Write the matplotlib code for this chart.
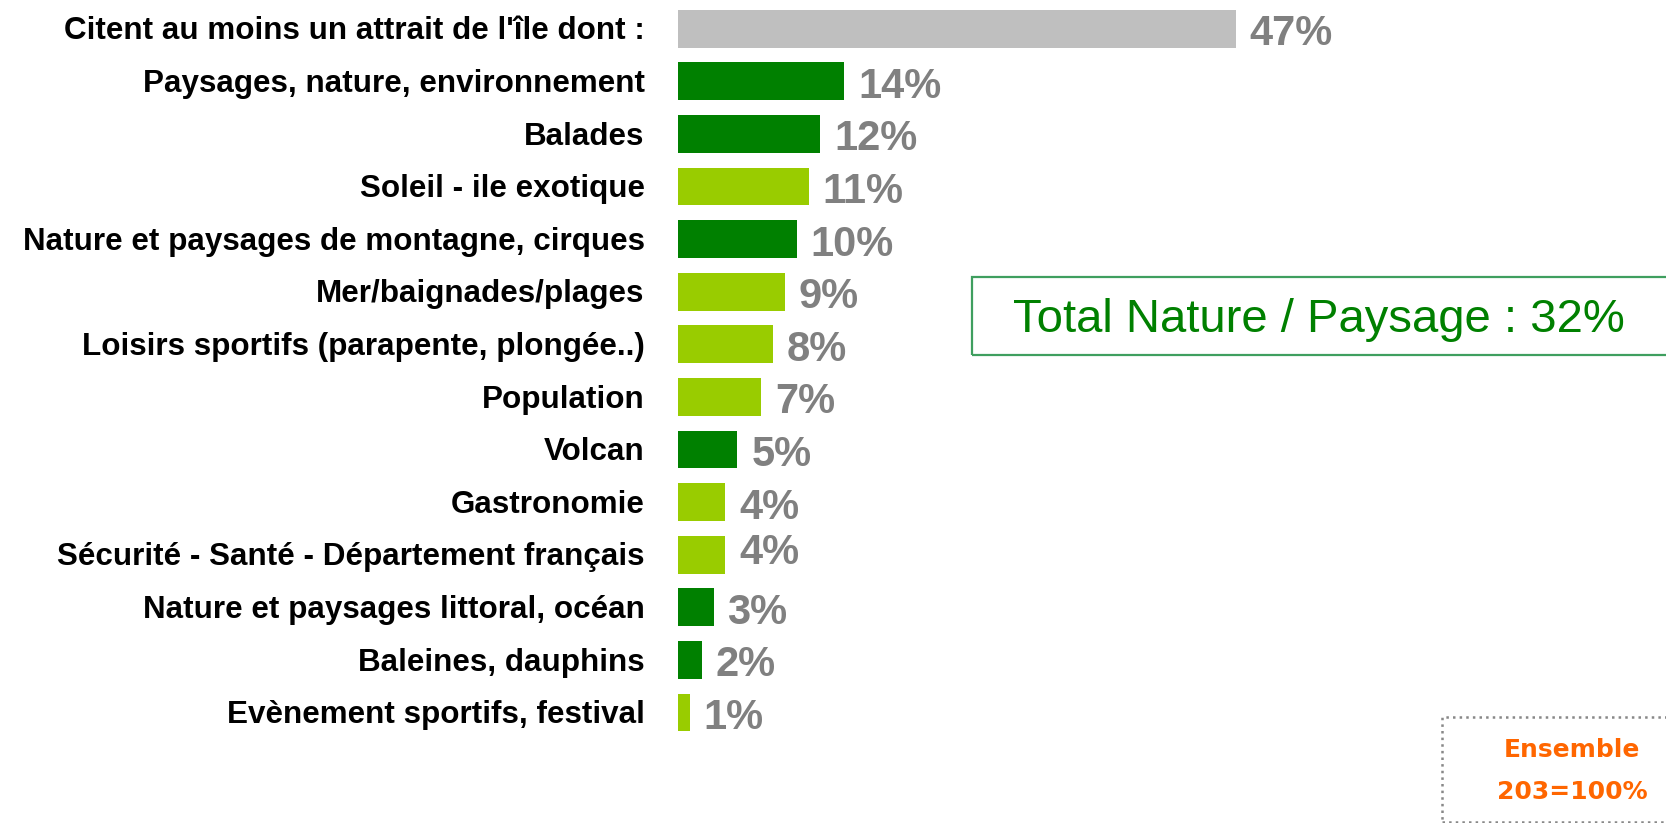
import matplotlib
matplotlib.use("Agg")
import matplotlib.pyplot as plt
from matplotlib.patches import Rectangle

categories = [
    "Citent au moins un attrait de l'île dont :",
    "Paysages, nature, environnement",
    "Balades",
    "Soleil - ile exotique",
    "Nature et paysages de montagne, cirques",
    "Mer/baignades/plages",
    "Loisirs sportifs (parapente, plongée..)",
    "Population",
    "Volcan",
    "Gastronomie",
    "Sécurité - Santé - Département français",
    "Nature et paysages littoral, océan",
    "Baleines, dauphins",
    "Evènement sportifs, festival",
]
values = [47, 14, 12, 11, 10, 9, 8, 7, 5, 4, 4, 3, 2, 1]
groups = ["total", "nature", "nature", "other", "nature", "other", "other",
          "other", "nature", "other", "other", "nature", "nature", "other"]
value_labels = [f"{v}%" for v in values]
total_text = "Total Nature / Paysage : 32%"
base_text = ["Ensemble", "203=100%"]

colors = {"total": "#BFBFBF", "nature": "#008000", "other": "#99CC00"}

W, H = 1666, 823
fig = plt.figure(figsize=(W / 100, H / 100), dpi=100)
fig.patch.set_facecolor("white")

bar_left = 678
px_per_unit = 11.87
row0 = 28.7
row_step = 52.6
ax = fig.add_axes([bar_left / W, 0, (W - bar_left) / W, 1])
ax.set_xlim(0, (W - bar_left) / px_per_unit)
ax.set_ylim((H - row0) / row_step, -row0 / row_step)
ax.axis("off")

ypos = list(range(len(categories)))
ax.barh(ypos, values, height=0.72, color=[colors[g] for g in groups], left=0)

font = "Liberation Sans"
for i, (cat, v, lab) in enumerate(zip(categories, values, value_labels)):
    ax.annotate(cat, xy=(0, i), xytext=(-24, -2), textcoords="offset points",
                ha="right", va="center", fontsize=22.6, fontweight="bold",
                family=font, color="black")
    dy = 1.5 if i == 10 else -4
    ax.annotate(lab, xy=(v, i), xytext=(10, dy), textcoords="offset points",
                ha="left", va="center", fontsize=30, fontweight="bold",
                family=font, color="#808080")

# Total box
fig.patches.append(Rectangle((972 / W, 1 - 355 / H), 800 / W, 78 / H,
                             transform=fig.transFigure, fill=False,
                             edgecolor="#3F9F5F", linewidth=1.6))
fig.text(1319 / W, 1 - 320 / H, total_text, ha="center", va="center",
         fontsize=34, family=font, color="#008000")

# Base box
fig.patches.append(Rectangle((1442 / W, 1.5 / H), 400 / W, (H - 717 - 1.5) / H,
                             transform=fig.transFigure, fill=False,
                             edgecolor="#888888", linewidth=1.8, linestyle=":"))
fig.text(1572 / W, 1 - 750 / H, base_text[0], ha="center", va="center",
         fontsize=18, fontweight="bold", family="DejaVu Sans", color="#FF6600")
fig.text(1572 / W, 1 - 792 / H, base_text[1], ha="center", va="center",
         fontsize=18, fontweight="bold", family="DejaVu Sans", color="#FF6600")

fig.savefig("out.png", dpi=100)
